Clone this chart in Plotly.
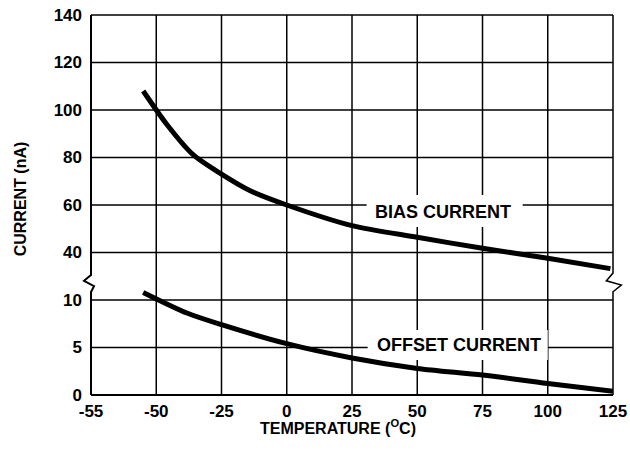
import numpy as np
import plotly.graph_objects as go

# ---- data ----
temp_ticks = [-55, -50, -25, 0, 25, 50, 75, 100, 125]
temp_tick_labels = ["-55", "-50", "-25", "0", "25", "50", "75", "100", "125"]
current_tick_labels = ["0", "5", "10", "40", "60", "80", "100", "120", "140"]

bias_temp = [-51, -46, -36, -25, -14, 0, 25, 50, 75, 100, 124]
bias_current = [108, 94, 81.3, 73, 66, 60, 51.3, 46.4, 41.8, 37.6, 33.2]

offset_temp = [-51, -38, -25, 0, 25, 50, 75, 100, 125]
offset_current = [10.8, 8.6, 7.4, 5.4, 3.9, 2.8, 2.1, 1.2, 0.4]

# ---- scale mapping (grid-unit axis with broken y scale) ----
def xpos(t):
    return np.interp(t, temp_ticks, np.arange(len(temp_ticks)))

def ypos_low(v):
    return np.asarray(v, dtype=float) / 5.0

def ypos_high(v):
    return 3 + (np.asarray(v, dtype=float) - 40) / 20.0

NX = len(temp_ticks) - 1
NY = len(current_tick_labels) - 1
FONT = "Liberation Sans"

fig = go.Figure()
fig.add_trace(go.Scatter(x=xpos(bias_temp), y=ypos_high(bias_current), mode="lines",
                         line=dict(color="black", width=5, shape="spline", smoothing=0.8),
                         hoverinfo="skip", showlegend=False, cliponaxis=False))
fig.add_trace(go.Scatter(x=xpos(offset_temp), y=ypos_low(offset_current), mode="lines",
                         line=dict(color="black", width=5, shape="spline", smoothing=0.8),
                         hoverinfo="skip", showlegend=False, cliponaxis=False))

shapes = []
gw = 1.5
for i in range(NY + 1):
    shapes.append(dict(type="line", xref="paper", yref="paper", x0=0, x1=1,
                       y0=i / NY, y1=i / NY, layer="below",
                       line=dict(color="black", width=2 if i == 0 else gw)))
for i in range(1, NX):
    shapes.append(dict(type="line", xref="paper", yref="paper", x0=i / NX, x1=i / NX,
                       y0=0, y1=1, layer="below", line=dict(color="black", width=gw)))

def edge_path(xu, pts):
    p = ""
    for k, (dx, yu) in enumerate(pts):
        p += ("M" if k == 0 else "L") + f"{(xu + dx) / NX},{yu / NY} "
    return p

left_pts = [(0, 8), (0, 2.524), (-0.107, 2.404), (0.046, 2.293), (0, 2.167), (0, 0)]
right_pts = [(0, 8), (0, 2.566), (-0.102, 2.404), (0.128, 2.314), (0, 2.173), (0, 0)]
shapes.append(dict(type="path", xref="paper", yref="paper", path=edge_path(0, left_pts),
                   layer="below", line=dict(color="black", width=2)))
shapes.append(dict(type="path", xref="paper", yref="paper", path=edge_path(NX, right_pts),
                   layer="below", line=dict(color="black", width=gw)))
# white label backgrounds (under the curves)
shapes.append(dict(type="rect", xref="paper", yref="paper", x0=0.528, x1=0.827,
                   y0=0.442, y1=0.526, layer="below", fillcolor="white", line=dict(width=0)))
shapes.append(dict(type="rect", xref="paper", yref="paper", x0=0.530, x1=0.875,
                   y0=0.092, y1=0.171, layer="below", fillcolor="white", line=dict(width=0)))

annotations = [
    dict(x=float(xpos(60)), y=float(ypos_high(57)), xref="x", yref="y",
         xanchor="center", yanchor="middle",
         text="BIAS CURRENT", showarrow=False,
         font=dict(family=FONT, size=18, color="black", weight="bold")),
    dict(x=float(xpos(66)), y=float(ypos_low(5.25)), xref="x", yref="y",
         xanchor="center", yanchor="middle",
         text="OFFSET CURRENT", showarrow=False,
         font=dict(family=FONT, size=18, color="black", weight="bold")),
    dict(x=0.473, y=-0.084, xref="paper", yref="paper",
         xanchor="center", yanchor="middle",
         text="TEMPERATURE (<sup>O</sup>C)", showarrow=False,
         font=dict(family=FONT, size=16, color="black", weight="bold")),
    dict(x=-0.136, y=0.515, xref="paper", yref="paper", textangle=-90,
         xanchor="center", yanchor="middle",
         text="CURRENT (nA)", showarrow=False,
         font=dict(family=FONT, size=16, color="black", weight="bold")),
]

fig.update_layout(
    template="none",
    width=630, height=453,
    margin=dict(l=91, r=17, t=15, b=58, autoexpand=False),
    paper_bgcolor="white", plot_bgcolor="rgba(0,0,0,0)",
    shapes=shapes, annotations=annotations,
    xaxis=dict(range=[0, NX], tickmode="array", tickvals=list(range(NX + 1)),
               ticktext=temp_tick_labels, showgrid=False, zeroline=False,
               showline=False, ticks="", ticklabelstandoff=4, automargin=False,
               tickfont=dict(family=FONT, size=17, color="black", weight="bold")),
    yaxis=dict(range=[0, NY], tickmode="array", tickvals=list(range(NY + 1)),
               ticktext=current_tick_labels, showgrid=False, zeroline=False,
               showline=False, ticks="", ticklabelstandoff=8, automargin=False,
               tickfont=dict(family=FONT, size=17, color="black", weight="bold")),
)

fig.write_html("out.html", config={"displayModeBar": False, "staticPlot": True},
               post_script="document.body.style.margin='0';document.body.style.overflow='hidden';")
